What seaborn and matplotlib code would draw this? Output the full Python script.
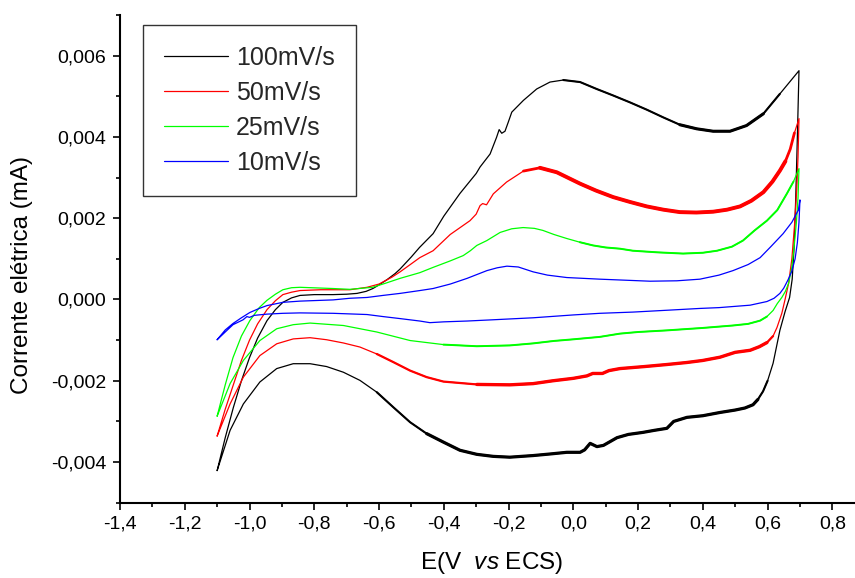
import matplotlib
matplotlib.use("Agg")
import matplotlib.pyplot as plt
import numpy as np
import pandas as pd
import seaborn as sns
from matplotlib.ticker import MultipleLocator, FuncFormatter

# Cyclic voltammograms at four scan rates (E in V vs SCE, current in mA)
rates = ["100mV/s", "50mV/s", "25mV/s", "10mV/s"]
colors = ["#000000", "#ff0000", "#00ff00", "#0000ff"]

# ---- 100 mV/s ----
e_fwd_100 = [-1.10, -1.075, -1.05, -1.025, -1.00, -0.975, -0.946, -0.92, -0.897, -0.87,
             -0.844, -0.80, -0.742, -0.70, -0.668, -0.64, -0.619, -0.60, -0.575, -0.55,
             -0.535, -0.50, -0.475, -0.433, -0.40, -0.35, -0.30, -0.288, -0.257, -0.237,
             -0.229, -0.221, -0.211, -0.201, -0.190, -0.154, -0.113, -0.072, -0.031, 0.021,
             0.072, 0.123, 0.175, 0.227, 0.278, 0.329, 0.381, 0.432, 0.484, 0.535,
             0.587, 0.638, 0.697]
i_fwd_100 = [-0.00421, -0.0034, -0.00266, -0.0020, -0.00143, -0.00095, -0.00052, -0.00025, -0.00007, 0.00004,
             0.00010, 0.00012, 0.00012, 0.00013, 0.00015, 0.00020, 0.00027, 0.00036, 0.00049, 0.00064,
             0.00075, 0.00105, 0.00128, 0.00162, 0.00205, 0.00261, 0.0031, 0.00326, 0.00358, 0.00399,
             0.00418, 0.00409, 0.00414, 0.00436, 0.00461, 0.0049, 0.00518, 0.00535, 0.0054, 0.00535,
             0.00518, 0.00502, 0.00485, 0.00467, 0.00448, 0.0043, 0.0042, 0.00414, 0.00414, 0.00428,
             0.00457, 0.00506, 0.00563]
e_rev_100 = [0.697, 0.692, 0.687, 0.682, 0.676, 0.668, 0.654, 0.638, 0.617, 0.60,
             0.586, 0.57, 0.555, 0.53, 0.50, 0.453, 0.40, 0.351, 0.31, 0.289,
             0.25, 0.215, 0.17, 0.135, 0.093, 0.073, 0.052, 0.035, 0.021, -0.02,
             -0.07, -0.124, -0.196, -0.247, -0.298, -0.35, -0.401, -0.453, -0.504, -0.556,
             -0.607, -0.659, -0.71, -0.762, -0.813, -0.865, -0.916, -0.968, -1.019, -1.06,
             -1.10]
i_rev_100 = [0.00563, 0.0040, 0.0025, 0.0013, 0.0005, 0.00005, -0.0003, -0.00076, -0.00157, -0.0020,
             -0.00226, -0.00246, -0.00259, -0.00267, -0.00272, -0.00278, -0.00286, -0.0029, -0.0030, -0.00317,
             -0.00322, -0.00327, -0.00332, -0.0034, -0.00359, -0.00362, -0.00354, -0.0037, -0.00376, -0.00376,
             -0.0038, -0.00384, -0.00388, -0.00386, -0.00381, -0.00371, -0.00351, -0.0033, -0.00302, -0.00265,
             -0.00228, -0.00199, -0.00179, -0.00165, -0.00158, -0.00158, -0.0017, -0.00203, -0.00257, -0.00322,
             -0.00421]

# ---- 50 mV/s ----
e_fwd_50 = [-1.10, -1.075, -1.05, -1.025, -1.00, -0.975, -0.946, -0.92, -0.897, -0.87,
            -0.844, -0.78, -0.69, -0.637, -0.60, -0.56, -0.535, -0.50, -0.474, -0.433,
            -0.38, -0.319, -0.30, -0.288, -0.28, -0.268, -0.247, -0.206, -0.154, -0.103,
            -0.051, 0.021, 0.07, 0.123, 0.175, 0.227, 0.278, 0.329, 0.38, 0.432,
            0.475, 0.515, 0.55, 0.587, 0.615, 0.638, 0.655, 0.67, 0.683, 0.697]
i_fwd_50 = [-0.00336, -0.0027, -0.0021, -0.0015, -0.0010, -0.0006, -0.00025, -0.00003, 0.00012, 0.00018,
            0.00022, 0.00024, 0.00024, 0.0003, 0.00038, 0.00055, 0.00068, 0.00088, 0.00103, 0.0012,
            0.0016, 0.00194, 0.0021, 0.00231, 0.00236, 0.00233, 0.0026, 0.00289, 0.00316, 0.00324,
            0.00313, 0.00285, 0.00268, 0.00252, 0.0024, 0.00229, 0.00221, 0.00215, 0.00214, 0.00216,
            0.00221, 0.00229, 0.00243, 0.00264, 0.0029, 0.00317, 0.0034, 0.0037, 0.0041, 0.00445]
e_rev_50 = [0.697, 0.694, 0.69, 0.683, 0.675, 0.665, 0.654, 0.644, 0.629, 0.617,
            0.598, 0.575, 0.546, 0.50, 0.453, 0.40, 0.351, 0.289, 0.22, 0.144,
            0.11, 0.09, 0.06, 0.042, 0.0, -0.063, -0.124, -0.196, -0.298, -0.401,
            -0.453, -0.504, -0.556, -0.607, -0.659, -0.71, -0.762, -0.813, -0.865, -0.916,
            -0.968, -1.019, -1.06, -1.10]
i_rev_50 = [0.00445, 0.0035, 0.0027, 0.0018, 0.0010, 0.0004, 0.0, -0.00034, -0.00069, -0.0009,
            -0.00106, -0.00116, -0.00125, -0.0013, -0.00142, -0.0015, -0.00155, -0.0016, -0.00165, -0.0017,
            -0.00175, -0.00182, -0.00182, -0.00188, -0.00194, -0.0020, -0.00207, -0.0021, -0.00209, -0.00202,
            -0.00191, -0.00175, -0.00154, -0.00134, -0.00117, -0.00107, -0.00099, -0.00094, -0.00097, -0.00109,
            -0.00138, -0.00191, -0.00257, -0.00336]

# ---- 25 mV/s ----
e_fwd_25 = [-1.10, -1.075, -1.051, -1.025, -0.999, -0.97, -0.946, -0.92, -0.897, -0.87,
            -0.844, -0.742, -0.69, -0.62, -0.58, -0.535, -0.474, -0.433, -0.38, -0.34,
            -0.318, -0.298, -0.267, -0.226, -0.19, -0.155, -0.12, -0.094, -0.06, -0.02,
            0.02, 0.061, 0.10, 0.144, 0.184, 0.26, 0.339, 0.40, 0.444, 0.49,
            0.524, 0.56, 0.598, 0.63, 0.66, 0.68, 0.697]
i_fwd_25 = [-0.00287, -0.0021, -0.00143, -0.0009, -0.00052, -0.0002, -0.00002, 0.00013, 0.00024, 0.00029,
            0.0003, 0.00027, 0.00025, 0.0003, 0.0004, 0.00052, 0.00066, 0.00079, 0.00095, 0.00108,
            0.0012, 0.00133, 0.00145, 0.00165, 0.00174, 0.00177, 0.00175, 0.0017, 0.0016, 0.0015,
            0.00141, 0.00133, 0.00128, 0.00125, 0.0012, 0.00116, 0.00113, 0.00115, 0.0012, 0.0013,
            0.00145, 0.0017, 0.00194, 0.0022, 0.00261, 0.0029, 0.00322]
e_rev_25 = [0.697, 0.694, 0.689, 0.682, 0.675, 0.665, 0.655, 0.644, 0.63, 0.617,
            0.598, 0.577, 0.54, 0.493, 0.40, 0.289, 0.20, 0.144, 0.082, 0.0,
            -0.06, -0.124, -0.196, -0.298, -0.401, -0.504, -0.607, -0.71, -0.813, -0.865,
            -0.916, -0.968, -1.019, -1.06, -1.10]
i_rev_25 = [0.00322, 0.0025, 0.0019, 0.0013, 0.0008, 0.0004, 0.0002, 0.00005, -0.0001, -0.00027,
            -0.00042, -0.00052, -0.0006, -0.00064, -0.0007, -0.00076, -0.0008, -0.00084, -0.00092, -0.00098,
            -0.00102, -0.00108, -0.00113, -0.00115, -0.00111, -0.00101, -0.0008, -0.00064, -0.00058, -0.00062,
            -0.00072, -0.00101, -0.0015, -0.00207, -0.00287]

# ---- 10 mV/s ----
e_fwd_10 = [-1.10, -1.075, -1.051, -1.025, -0.999, -0.97, -0.946, -0.897, -0.844, -0.742,
            -0.69, -0.637, -0.588, -0.535, -0.474, -0.433, -0.38, -0.328, -0.267, -0.235,
            -0.205, -0.17, -0.124, -0.08, -0.02, 0.082, 0.144, 0.237, 0.32, 0.391,
            0.45, 0.493, 0.54, 0.577, 0.61, 0.648, 0.675, 0.695, 0.70]
i_fwd_10 = [-0.00099, -0.00075, -0.00059, -0.00045, -0.00032, -0.00022, -0.00015, -0.00007, -0.00004, -0.00001,
            0.00003, 0.00005, 0.0001, 0.00015, 0.00022, 0.00027, 0.00038, 0.00052, 0.00071, 0.00078,
            0.00082, 0.0008, 0.00068, 0.0006, 0.00054, 0.0005, 0.00048, 0.00045, 0.00046, 0.0005,
            0.0006, 0.00071, 0.00086, 0.00103, 0.0013, 0.00162, 0.0019, 0.0022, 0.00245]
e_rev_10 = [0.70, 0.697, 0.692, 0.685, 0.675, 0.663, 0.65, 0.638, 0.62, 0.598,
            0.546, 0.45, 0.391, 0.30, 0.184, 0.082, 0.0, -0.124, -0.25, -0.328,
            -0.40, -0.443, -0.474, -0.535, -0.588, -0.637, -0.742, -0.844, -0.897, -0.946,
            -0.985, -1.0, -1.008, -1.02, -1.051, -1.075, -1.10]
i_rev_10 = [0.00245, 0.0019, 0.0014, 0.0010, 0.0007, 0.00048, 0.00028, 0.00015, 0.00003, -0.00005,
            -0.00014, -0.0002, -0.00022, -0.00026, -0.00031, -0.00034, -0.00038, -0.00045, -0.0005, -0.00053,
            -0.00055, -0.00057, -0.00053, -0.00047, -0.00042, -0.00037, -0.00034, -0.00033, -0.00034, -0.00036,
            -0.00039, -0.00044, -0.00042, -0.0005, -0.00062, -0.0008, -0.00099]

series = {
    "100mV/s": (e_fwd_100, i_fwd_100, e_rev_100, i_rev_100),
    "50mV/s": (e_fwd_50, i_fwd_50, e_rev_50, i_rev_50),
    "25mV/s": (e_fwd_25, i_fwd_25, e_rev_25, i_rev_25),
    "10mV/s": (e_fwd_10, i_fwd_10, e_rev_10, i_rev_10),
}

frames = []
for rate, (ef, i_f, er, ir) in series.items():
    e = list(ef) + list(er[1:])
    cur = list(i_f) + list(ir[1:])
    sweep = ["anodic"] * len(ef) + ["cathodic"] * (len(er) - 1)
    frames.append(pd.DataFrame({"E": e, "I": cur, "rate": rate,
                                "sweep": sweep, "step": np.arange(len(e))}))
df = pd.concat(frames, ignore_index=True)

# Sections where the recorded trace is noisy and therefore renders heavier
heavy = {
    "100mV/s": [("anodic", -0.06, 0.67, 1.5), ("anodic", 0.30, 0.62, 2.2),
                ("cathodic", -0.62, 0.60, 1.5), ("cathodic", -0.46, 0.58, 2.3)],
    "50mV/s": [("anodic", -0.16, 0.69, 2.0), ("anodic", -0.11, 0.66, 2.8),
               ("cathodic", -0.62, 0.62, 1.6), ("cathodic", -0.36, 0.60, 2.4)],
    "25mV/s": [("anodic", 0.0, 0.69, 1.4), ("cathodic", -0.5, 0.60, 1.4)],
    "10mV/s": [],
}

sns.set_theme(style="ticks")
plt.rcParams["font.family"] = ["Liberation Sans", "DejaVu Sans"]
plt.rcParams["mathtext.fontset"] = "custom"
plt.rcParams["mathtext.rm"] = "Liberation Sans"
plt.rcParams["mathtext.it"] = "Liberation Sans:italic"

fig = plt.figure(figsize=(8.55, 5.78), dpi=100)
ax = fig.add_axes([120 / 855, 75.3 / 578, 735 / 855, 487.7 / 578])

for rate, color in zip(rates, colors):
    d = df[df["rate"] == rate]
    sns.lineplot(data=d, x="E", y="I", sort=False, estimator=None, color=color,
                 linewidth=0.9, label=rate, ax=ax)
    for sw, lo, hi, lw in heavy[rate]:
        part = d[(d["sweep"] == sw) & (d["E"] >= lo) & (d["E"] <= hi)]
        sns.lineplot(data=part, x="E", y="I", sort=False, estimator=None, color=color,
                     linewidth=lw, legend=False, label="_nolegend_",
                     solid_capstyle="round", solid_joinstyle="round", ax=ax)

ax.set_xlim(-1.4, 0.87)
ax.set_ylim(-0.005, 0.007)

ax.xaxis.set_major_locator(MultipleLocator(0.2))
ax.xaxis.set_minor_locator(MultipleLocator(0.1))
ax.yaxis.set_major_locator(MultipleLocator(0.002))
ax.yaxis.set_minor_locator(MultipleLocator(0.001))


def comma_fmt(decimals):
    def f(v, pos):
        if abs(v) < 1e-12:
            v = 0.0
        return f"{v:.{decimals}f}".replace(".", ",")
    return FuncFormatter(f)


ax.xaxis.set_major_formatter(comma_fmt(1))
ax.yaxis.set_major_formatter(comma_fmt(3))

ax.tick_params(axis="both", which="major", direction="out", length=5, width=1.2,
               labelsize=14, color="black", labelcolor="black")
ax.tick_params(axis="both", which="minor", direction="out", length=3, width=1.2, color="black")
ax.tick_params(axis="x", which="major", pad=4.5)
ax.tick_params(axis="y", which="major", pad=5.0)

sns.despine(ax=ax)
for side in ("left", "bottom"):
    ax.spines[side].set_linewidth(1.5)
    ax.spines[side].set_color("black")

ax.set_xlabel("E(V  $\\mathit{vs}$ ECS)", fontsize=17.5, color="black")
ax.set_ylabel("Corrente elétrica (mA)", fontsize=17.5, color="black")
ax.xaxis.set_label_coords(0.505, -0.098)
ax.yaxis.set_label_coords(-0.118, 0.467)

leg = ax.legend(loc="upper left", bbox_to_anchor=(0.031, 0.9795), borderaxespad=0,
                frameon=True, fancybox=False, shadow=False, fontsize=18,
                handlelength=2.56, handletextpad=0.32, labelspacing=0.44, borderpad=0.85)
leg.get_frame().set_edgecolor("black")
leg.get_frame().set_linewidth(1.0)
for line in leg.get_lines():
    line.set_linewidth(0.9)

fig.savefig("out.png", dpi=100, facecolor="white")
